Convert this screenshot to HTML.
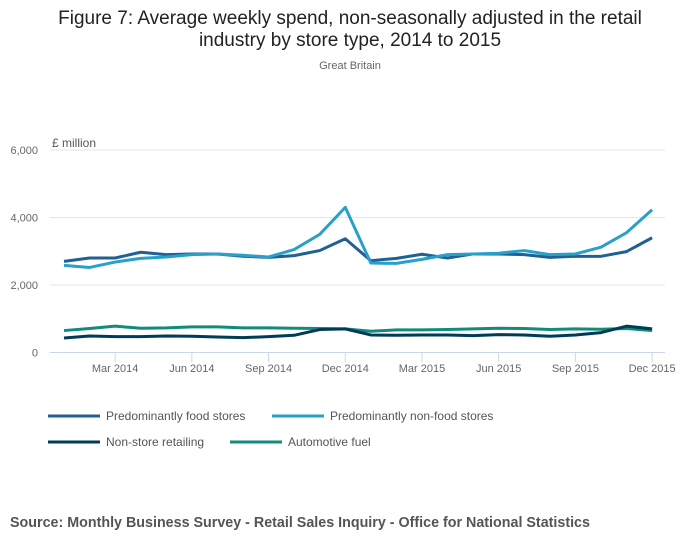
<!DOCTYPE html>
<html><head><meta charset="utf-8"><style>
body{margin:0;background:#fff;font-family:"Liberation Sans",sans-serif;}
</style></head><body>
<svg id="c" width="700" height="549" xmlns="http://www.w3.org/2000/svg">
<text x="350" y="24" text-anchor="middle" font-size="19" fill="#222">Figure 7: Average weekly spend, non-seasonally adjusted in the retail</text>
<text x="350" y="46" text-anchor="middle" font-size="19" fill="#222">industry by store type, 2014 to 2015</text>
<text x="350" y="69" text-anchor="middle" font-size="11" fill="#666">Great Britain</text>
<text x="52" y="147" font-size="12" fill="#555">£ million</text>
<g id="grid"></g><g id="series"></g>
<g font-size="12" fill="#555">
<line x1="48" y1="416" x2="100" y2="416" stroke="#206095" stroke-width="3"/><text x="106" y="420">Predominantly food stores</text>
<line x1="272" y1="416" x2="324" y2="416" stroke="#27a0cc" stroke-width="3"/><text x="330" y="420">Predominantly non-food stores</text>
<line x1="48" y1="442" x2="100" y2="442" stroke="#003c57" stroke-width="3"/><text x="106" y="446">Non-store retailing</text>
<line x1="230" y1="442" x2="282" y2="442" stroke="#118c7b" stroke-width="3"/><text x="288" y="446">Automotive fuel</text>
</g>
<text x="10" y="527" font-size="14.3" font-weight="bold" fill="#555">Source: Monthly Business Survey - Retail Sales Inquiry - Office for National Statistics</text>
</svg>
<script>
const food=[2700,2800,2800,2970,2900,2920,2920,2850,2820,2870,3020,3370,2720,2790,2910,2800,2920,2920,2900,2820,2850,2850,2990,3400];
const nonFood=[2580,2520,2680,2790,2830,2900,2920,2880,2830,3050,3500,4300,2650,2640,2760,2900,2920,2940,3020,2900,2920,3120,3550,4230];
const nonStore=[430,490,470,470,490,480,460,440,470,510,680,700,520,510,520,520,500,530,520,480,520,590,780,700];
const fuel=[650,710,780,720,730,760,760,730,730,720,710,700,630,670,670,680,700,720,710,680,700,690,710,650];
const yTicks=[0,2000,4000,6000];
const yTickLabels=["0","2,000","4,000","6,000"];
const xTickIdx=[2,5,8,11,14,17,20,23];
const xTickLabels=["Mar 2014","Jun 2014","Sep 2014","Dec 2014","Mar 2015","Jun 2015","Sep 2015","Dec 2015"];
const NS="http://www.w3.org/2000/svg";
const x=i=>64+i*25.57, y=v=>352.5-v*(202.5/6000);
const grid=document.getElementById('grid'), ser=document.getElementById('series');
function mk(t,a,p){const e=document.createElementNS(NS,t);for(const k in a)e.setAttribute(k,a[k]);p.appendChild(e);return e;}
yTicks.forEach((v,i)=>{
 const l=mk('line',{x1:50,x2:665,y1:y(v),y2:y(v),stroke:v===0?'#ccd6eb':'#e6e6e6'},grid);
 
 
 const t=mk('text',{x:38,y:y(v)+4,'text-anchor':'end','font-size':11,fill:'#666'},grid);t.textContent=yTickLabels[i];
 
 
});
xTickIdx.forEach((idx,i)=>{
 const l=mk('line',{x1:x(idx),x2:x(idx),y1:352.5,y2:362,stroke:'#ccd6eb'},grid);
 
 
 const t=mk('text',{x:x(idx),y:372,'text-anchor':'middle','font-size':11,fill:'#666'},grid);t.textContent=xTickLabels[i];
 
 
});
[[fuel,'#118c7b','fuel-line'],[nonStore,'#003c57','nonstore-line'],[food,'#206095','food-line'],[nonFood,'#27a0cc','nonfood-line']].forEach(([d,c,n])=>{
 const p=mk('polyline',{points:d.map((v,i)=>x(i)+','+y(v)).join(' '),fill:'none',stroke:c,'stroke-width':3,'stroke-linejoin':'round'},ser);
 
 
});
</script>
</body></html>
